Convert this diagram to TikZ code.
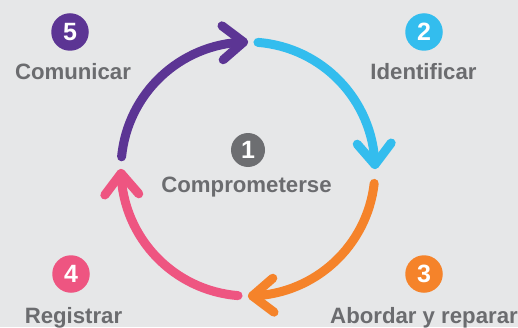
\documentclass[tikz,border=0pt]{standalone}
\usepackage{fontspec}
\setmainfont{Liberation Sans}
\usetikzlibrary{calc}
\definecolor{bgc}{HTML}{E6E7E8}
\definecolor{cpurple}{HTML}{5C3594}
\definecolor{cblue}{HTML}{33BDEE}
\definecolor{corange}{HTML}{F5832A}
\definecolor{cpink}{HTML}{EE5581}
\definecolor{cgray}{HTML}{6D6E71}
\definecolor{txtgray}{HTML}{6B6C6F}
\begin{document}
\begin{tikzpicture}[x=1pt,y=1pt,
  arcline/.style={line width=9pt, line cap=round, line join=round},
  numdot/.style={circle, fill=#1, minimum size=37.5pt, inner sep=0pt, text=white,
    font=\bfseries\fontsize{25}{25}\selectfont},
  lbl/.style={anchor=base, text=txtgray, inner sep=0pt,
    font=\bfseries\fontsize{22.2}{24}\selectfont}]
\fill[bgc] (0,0) rectangle (518,327);
\useasboundingbox (0,0) rectangle (518,327);
\coordinate (C) at (248,158);
% start and tip points
\coordinate (s5) at ($(C)+(174.5:127)$);
\coordinate (t5) at ($(C)+(92:127)$);
\coordinate (s2) at ($(C)+(85.5:127)$);
\coordinate (t2) at ($(C)+(2:127)$);
\coordinate (s3) at ($(C)+(-6.5:127)$);
\coordinate (t3) at ($(C)+(-88:127)$);
\coordinate (s4) at ($(C)+(-94.5:127)$);
\coordinate (t4) at ($(C)+(-178:127)$);
% arcs
\draw[arcline, cpurple] (s5) arc[start angle=174.5, end angle=92, radius=127];
\draw[arcline, cpurple] ($(t5)+(182:21)+(92:17)$) -- (t5) -- ($(t5)+(182:21)+(272:17)$);
\draw[arcline, cblue] (s2) arc[start angle=85.5, end angle=2, radius=127];
\draw[arcline, cblue] ($(t2)+(92:21)+(2:17)$) -- (t2) -- ($(t2)+(92:21)+(182:17)$);
\draw[arcline, corange] (s3) arc[start angle=-6.5, end angle=-88, radius=127];
\draw[arcline, corange] ($(t3)+(2:21)+(-88:17)$) -- (t3) -- ($(t3)+(2:21)+(92:17)$);
\draw[arcline, cpink] (s4) arc[start angle=-94.5, end angle=-178, radius=127];
\draw[arcline, cpink] ($(t4)+(-88:21)+(-178:17)$) -- (t4) -- ($(t4)+(-88:21)+(2:17)$);
% number dots
\node[numdot=cpurple] (n5) at (70,295) {5};
\node[numdot=cblue] (n2) at (424,295) {2};
\node[numdot=corange] (n3) at (424,53) {3};
\node[numdot=cpink] (n4) at (71,53) {4};
\node[numdot=cgray, minimum size=34pt] (n1) at (248,177) {1};
% labels
\node[lbl] (l5) at (73,247) {Comunicar};
\node[lbl] (l2) at (423.5,247) {Identificar};
\node[lbl] (l1) at (246.5,135) {Comprometerse};
\node[lbl] (l4) at (73.5,4) {Registrar};
\node[lbl] (l3) at (424,4) {Abordar y reparar};
\end{tikzpicture}
\end{document}
